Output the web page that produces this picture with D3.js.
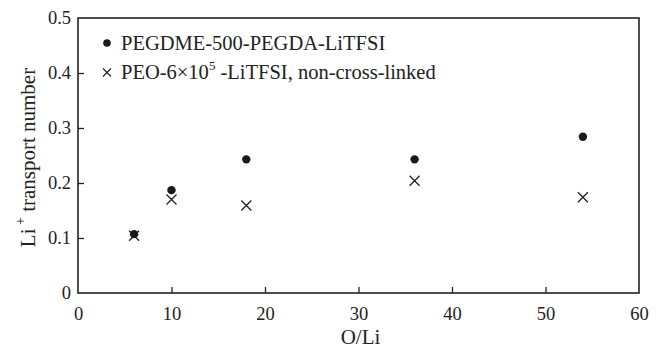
<!DOCTYPE html>
<html>
<head>
<meta charset="utf-8">
<script src="https://d3js.org/d3.v7.min.js"></script>
<style>
body { margin: 0; background: #fff; }
text { font-family: "Liberation Serif", "Times New Roman", serif; fill: #222; }
</style>
</head>
<body>
<div id="chart"></div>
<script>
// data
var oLi = [6, 10, 18, 36, 54];
var pegdme = [0.107, 0.187, 0.243, 0.243, 0.284];
var peo = [0.104, 0.170, 0.159, 0.204, 0.174];
var xTicks = [0, 10, 20, 30, 40, 50, 60];
var yTicks = [0, 0.1, 0.2, 0.3, 0.4, 0.5];

var W = 659, H = 350;
var margin = {top: 18, right: 20, bottom: 57, left: 78};
var width = 639 - margin.left, height = 293 - margin.top;

var svg = d3.select("#chart").append("svg")
  .attr("width", W).attr("height", H);
var g = svg.append("g")
  .attr("transform", "translate(" + margin.left + "," + margin.top + ")");

var x = d3.scaleLinear().domain([0, 60]).range([0, width]);
var y = d3.scaleLinear().domain([0, 0.5]).range([height, 0]);

// frame
g.append("rect")
  .attr("x", 0).attr("y", 0)
  .attr("width", width).attr("height", height)
  .attr("fill", "none").attr("stroke", "#222").attr("stroke-width", 1.6);

// x axis: inward ticks, labels below
var xAxis = g.append("g").attr("transform", "translate(0," + height + ")")
  .call(d3.axisBottom(x).tickValues(xTicks).tickSize(-6).tickPadding(14).tickFormat(d3.format("d")));
xAxis.select(".domain").remove();
xAxis.selectAll(".tick line").attr("stroke", "#222").attr("stroke-width", 1.3)
  .filter(function(d) { return d === 0 || d === 60; }).remove();
xAxis.selectAll("text").style("font-size", "18.5px").attr("fill", "#222");

// y axis
var yAxis = g.append("g")
  .call(d3.axisLeft(y).tickValues(yTicks).tickSize(-6).tickPadding(7)
    .tickFormat(function(d) { return d === 0 ? "0" : d3.format(".1f")(d); }));
yAxis.select(".domain").remove();
yAxis.selectAll(".tick line").attr("stroke", "#222").attr("stroke-width", 1.3)
  .filter(function(d) { return d === 0 || d === 0.5; }).remove();
yAxis.selectAll("text").style("font-size", "18.5px").attr("fill", "#222");

// axis titles
svg.append("text")
  .attr("x", margin.left + x(30) + 2).attr("y", 344)
  .attr("text-anchor", "middle").style("font-size", "21px")
  .text("O/Li");

var yl = svg.append("text")
  .attr("transform", "translate(35," + (margin.top + y(0.25) + 2) + ") rotate(-90)")
  .attr("text-anchor", "middle").style("font-size", "21px");
yl.append("tspan").text("Li");
yl.append("tspan").attr("dy", -10).style("font-size", "14px").text(" +");
yl.append("tspan").attr("dy", 10).text(" transport number");

// crosses
var cr = 5;
g.selectAll(".cross").data(oLi).enter().append("path")
  .attr("class", "cross")
  .attr("d", function(d, i) {
    var cx = x(d), cy = y(peo[i]);
    return "M" + (cx - cr) + "," + (cy - cr) + "L" + (cx + cr) + "," + (cy + cr) +
           "M" + (cx - cr) + "," + (cy + cr) + "L" + (cx + cr) + "," + (cy - cr);
  })
  .attr("stroke", "#222").attr("stroke-width", 1.3).attr("fill", "none");

// dots
g.selectAll(".dot").data(oLi).enter().append("circle")
  .attr("class", "dot")
  .attr("cx", function(d) { return x(d); })
  .attr("cy", function(d, i) { return y(pegdme[i]); })
  .attr("r", 4.2).attr("fill", "#1a1a1a");

// legend
var legend = svg.append("g").attr("transform", "translate(107,0)");
legend.append("circle").attr("cx", 0).attr("cy", 43).attr("r", 3.8).attr("fill", "#1a1a1a");
legend.append("text").attr("x", 14).attr("y", 49.5).style("font-size", "20.5px")
  .text("PEGDME-500-PEGDA-LiTFSI");
legend.append("path")
  .attr("d", "M-4,68.5L4,76.5M-4,76.5L4,68.5")
  .attr("stroke", "#222").attr("stroke-width", 1.2);
var lt = legend.append("text").attr("x", 14).attr("y", 78.5).style("font-size", "20.5px");
lt.append("tspan").text("PEO-6\u00d710");
lt.append("tspan").attr("dy", -9).style("font-size", "13px").text("5");
lt.append("tspan").attr("dy", 9).text(" -LiTFSI, non-cross-linked");
</script>
</body>
</html>
